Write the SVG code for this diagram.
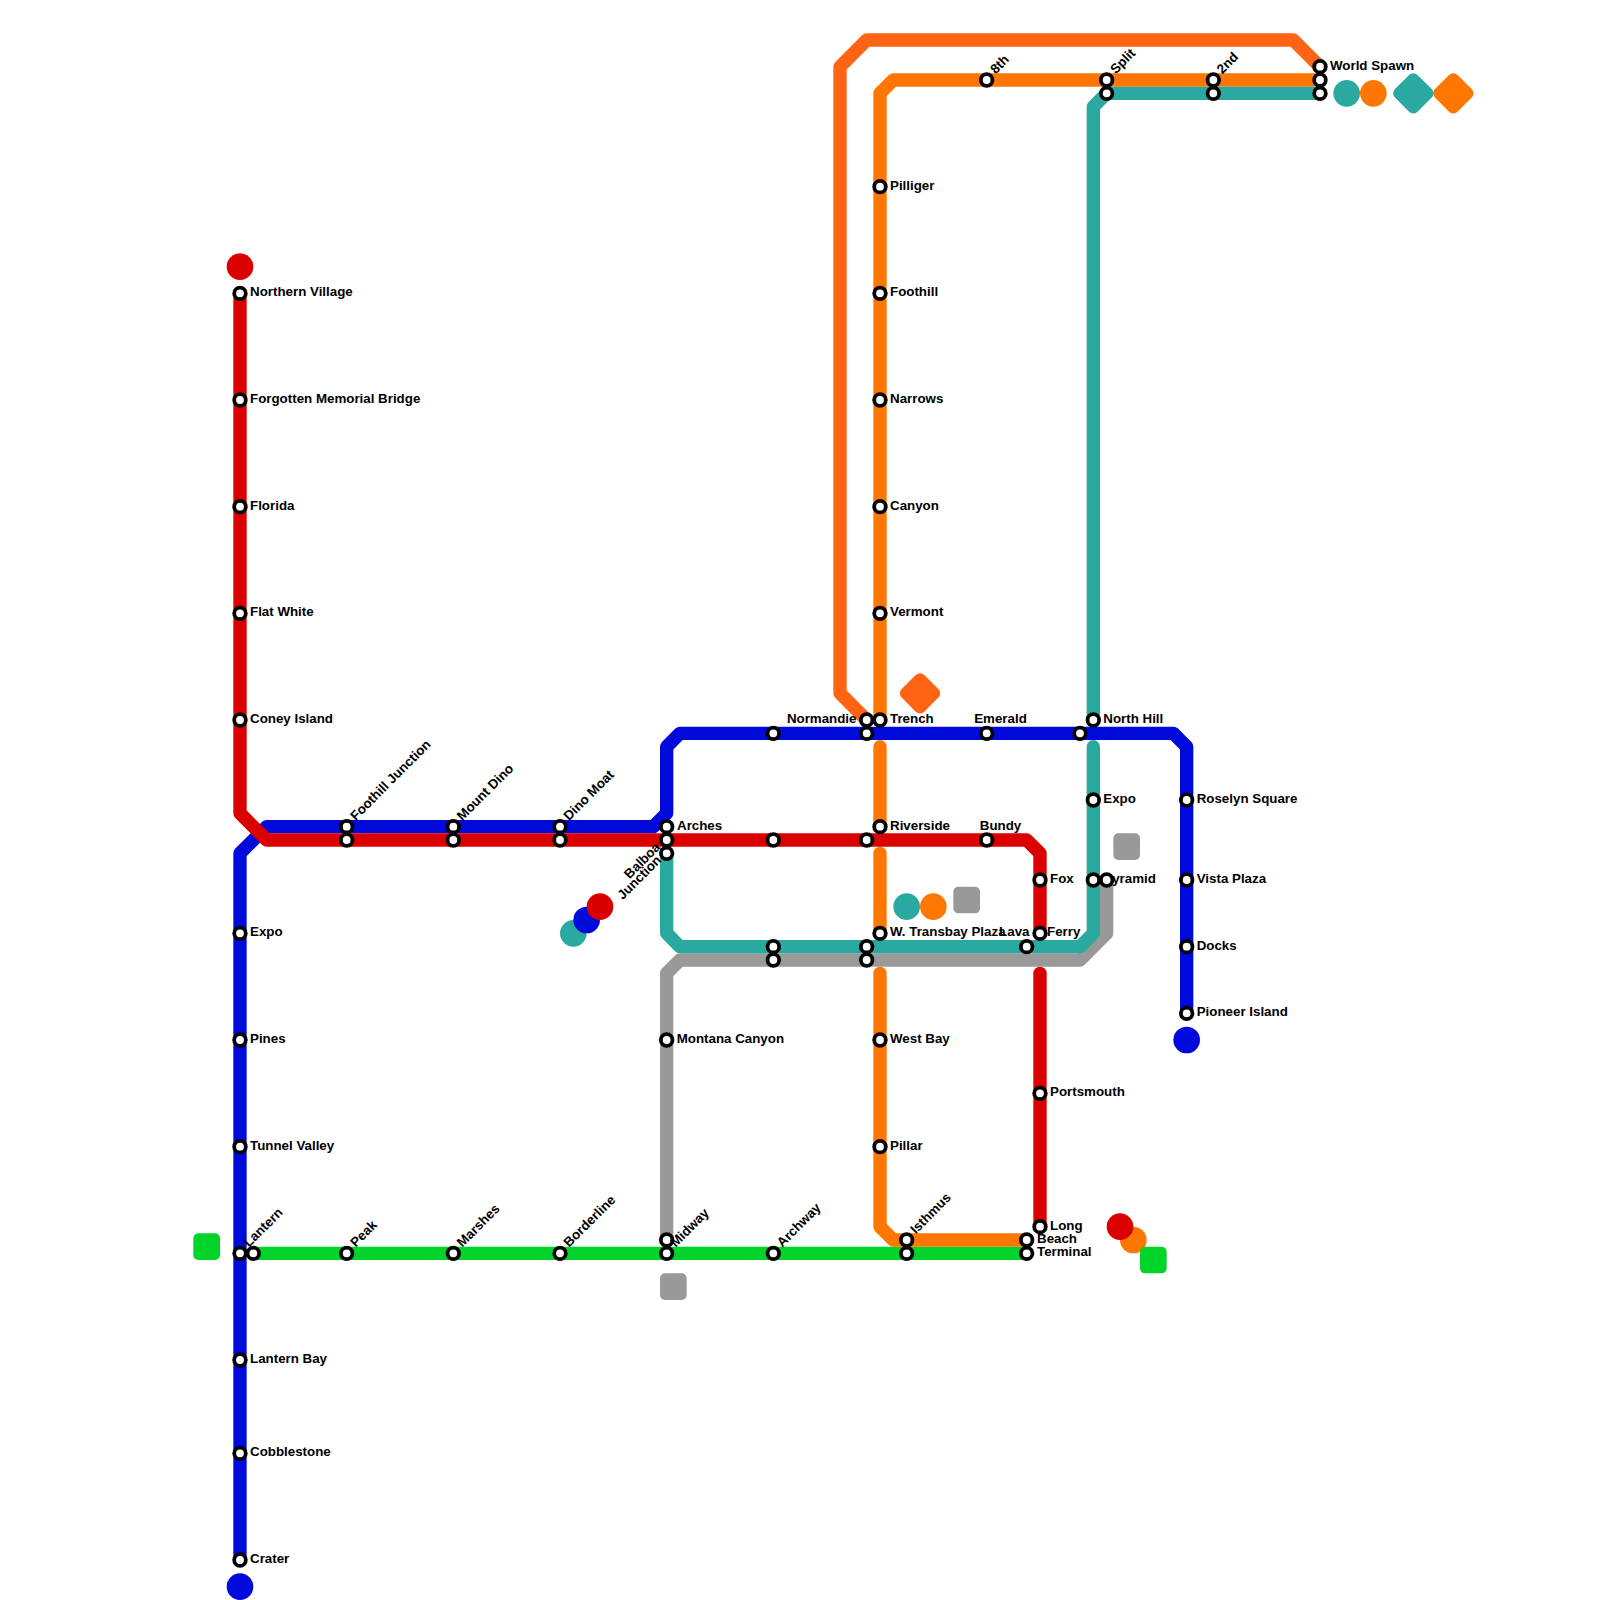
<svg xmlns="http://www.w3.org/2000/svg" width="1600" height="1600" viewBox="0 0 1600 1600">
<style>
text{font-family:"Liberation Sans",Arial,sans-serif;font-weight:700;font-size:13.33px;fill:#000}
.m{text-anchor:middle}.e{text-anchor:end}
.line{fill:none;stroke-width:13.33;stroke-linecap:round;stroke-linejoin:round}
.s{fill:#fff;stroke:#000;stroke-width:3.8}
.red{stroke:#db0000}.blue{stroke:#000bdb}.green{stroke:#00d42a}.gray{stroke:#999}.teal{stroke:#2aa9a0}.orange{stroke:#ff7700}.dark{stroke:#ff6414}
.fred{fill:#db0000}.fblue{fill:#000bdb}.fgreen{fill:#00d42a}.fgray{fill:#999}.fteal{fill:#2aa9a0}.forange{fill:#ff7700}.fdark{fill:#ff6414}
</style>
<defs>
<circle id="st" r="5.8" class="s"/>
<rect id="sq" x="-13.33" y="-13.33" width="26.67" height="26.67" rx="5"/>
<rect id="di" x="-16" y="-16" width="32" height="32" rx="6" transform="rotate(45)"/>
</defs>
<g id="connectors">
<path class="line green" d="M253.33 1253.33H1026.67"/>
<path class="line gray" d="M1106.67 880V933.33L1080 960H680L666.67 973.33V1240"/>
<path class="line dark" d="M866.67 720L840 693.33V66.67L866.67 40H1293.33L1320 66.67"/>
<path class="line orange" d="M880 720V93.33L893.33 80H1320"/>
<path class="line orange" d="M880 746.67V826.67"/>
<path class="line orange" d="M880 853.33V933.33"/>
<path class="line orange" d="M880 973.33V1226.67L893.33 1240H1026.67"/>
<path class="line teal" d="M666.67 853.33V933.33L680 946.67H1080L1093.33 933.33V746.67"/>
<path class="line teal" d="M1093.33 720V106.67L1106.67 93.33H1320"/>
<path class="line blue" d="M240 1560V853.33L266.67 826.67H653.33L666.67 813.33V746.67L680 733.33H1173.33L1186.67 746.67V1013.33"/>
<path class="line red" d="M240 293.33V813.33L266.67 840H1026.67L1040 853.33V933.33"/>
<path class="line red" d="M1040 973.33V1226.67"/>
</g>
<g id="markers">
<circle class="fred" cx="240" cy="266.67" r="13.33"/>
<circle class="fblue" cx="240" cy="1586.67" r="13.33"/>
<circle class="fblue" cx="1186.67" cy="1040" r="13.33"/>
<circle class="fteal" cx="573.33" cy="933.33" r="13.33"/>
<circle class="fblue" cx="586.67" cy="920" r="13.33"/>
<circle class="fred" cx="600" cy="906.67" r="13.33"/>
<circle class="fteal" cx="906.67" cy="906.67" r="13.33"/>
<circle class="forange" cx="933.33" cy="906.67" r="13.33"/>
<circle class="forange" cx="1133.33" cy="1240" r="13.33"/>
<circle class="fred" cx="1120" cy="1226.67" r="13.33"/>
<circle class="fteal" cx="1346.67" cy="93.33" r="13.33"/>
<circle class="forange" cx="1373.33" cy="93.33" r="13.33"/>
<use href="#sq" class="fgreen" x="206.67" y="1246.67"/>
<use href="#sq" class="fgreen" x="1153.33" y="1260"/>
<use href="#sq" class="fgray" x="673.33" y="1286.67"/>
<use href="#sq" class="fgray" x="1126.67" y="846.67"/>
<use href="#sq" class="fgray" x="966.67" y="900"/>
<use href="#di" class="fdark" x="920" y="693.33"/>
<use href="#di" class="fteal" x="1413.33" y="93.33"/>
<use href="#di" class="forange" x="1453.33" y="93.33"/>
</g>
<g id="stations">
<g id="northern-village"><use href="#st" x="240" y="293.33"/><text x="250" y="296.33">Northern Village</text></g>
<g id="forgotten"><use href="#st" x="240" y="400"/><text x="250" y="403">Forgotten Memorial Bridge</text></g>
<g id="florida"><use href="#st" x="240" y="506.67"/><text x="250" y="509.67">Florida</text></g>
<g id="flat-white"><use href="#st" x="240" y="613.33"/><text x="250" y="616.33">Flat White</text></g>
<g id="coney-island"><use href="#st" x="240" y="720"/><text x="250" y="723">Coney Island</text></g>
<g id="expo-w"><use href="#st" x="240" y="933.33"/><text x="250" y="936.33">Expo</text></g>
<g id="pines"><use href="#st" x="240" y="1040"/><text x="250" y="1043">Pines</text></g>
<g id="tunnel-valley"><use href="#st" x="240" y="1146.67"/><text x="250" y="1149.67">Tunnel Valley</text></g>
<g id="lantern"><use href="#st" x="240" y="1253.33"/><text transform="translate(249 1247.8) rotate(-45)">Lantern</text></g>
<g id="lantern-e"><use href="#st" x="253.33" y="1253.33"/></g>
<g id="lantern-bay"><use href="#st" x="240" y="1360"/><text x="250" y="1363">Lantern Bay</text></g>
<g id="cobblestone"><use href="#st" x="240" y="1453.33"/><text x="250" y="1456.33">Cobblestone</text></g>
<g id="crater"><use href="#st" x="240" y="1560"/><text x="250" y="1563">Crater</text></g>
<g id="foothill-junction"><use href="#st" x="346.67" y="826.67"/><text transform="translate(355.67 821.2) rotate(-45)">Foothill Junction</text></g>
<g id="foothill-junction-r"><use href="#st" x="346.67" y="840"/></g>
<g id="mount-dino"><use href="#st" x="453.33" y="826.67"/><text transform="translate(462.33 821.2) rotate(-45)">Mount Dino</text></g>
<g id="mount-dino-r"><use href="#st" x="453.33" y="840"/></g>
<g id="dino-moat"><use href="#st" x="560" y="826.67"/><text transform="translate(569 821.2) rotate(-45)">Dino Moat</text></g>
<g id="dino-moat-r"><use href="#st" x="560" y="840"/></g>
<g id="peak"><use href="#st" x="346.67" y="1253.33"/><text transform="translate(355.67 1247.8) rotate(-45)">Peak</text></g>
<g id="marshes"><use href="#st" x="453.33" y="1253.33"/><text transform="translate(462.33 1247.8) rotate(-45)">Marshes</text></g>
<g id="borderline"><use href="#st" x="560" y="1253.33"/><text transform="translate(569 1247.8) rotate(-45)">Borderline</text></g>
<g id="midway-g"><use href="#st" x="666.67" y="1240"/></g>
<g id="midway"><use href="#st" x="666.67" y="1253.33"/><text transform="translate(675.67 1247.8) rotate(-45)">Midway</text></g>
<g id="archway"><use href="#st" x="773.33" y="1253.33"/><text transform="translate(782.33 1247.8) rotate(-45)">Archway</text></g>
<g id="isthmus"><use href="#st" x="906.67" y="1240"/><text transform="translate(915.67 1234.5) rotate(-45)">Isthmus</text></g>
<g id="isthmus-g"><use href="#st" x="906.67" y="1253.33"/></g>
<g id="beach"><use href="#st" x="1026.67" y="1240"/><text x="1037" y="1243">Beach</text></g>
<g id="terminal"><use href="#st" x="1026.67" y="1253.33"/><text x="1037" y="1256.33">Terminal</text></g>
<g id="long"><use href="#st" x="1040" y="1226.67"/><text x="1050" y="1229.67">Long</text></g>
<g id="portsmouth"><use href="#st" x="1040" y="1093.33"/><text x="1050" y="1096.33">Portsmouth</text></g>
<g id="fox"><use href="#st" x="1040" y="880"/><text x="1050" y="883">Fox</text></g>
<g id="w-transbay"><use href="#st" x="880" y="933.33"/><text x="890" y="936.33">W. Transbay Plaza</text></g>
<g id="lava"><use href="#st" x="1026.67" y="946.67"/><text class="e" x="1029.5" y="936.33">Lava</text></g>
<g id="ferry"><use href="#st" x="1040" y="933.33"/><text x="1047" y="936.33">Ferry</text></g>
<g id="arches"><use href="#st" x="666.67" y="826.67"/><text x="677" y="829.67">Arches</text></g>
<g id="arches-r"><use href="#st" x="666.67" y="840"/></g>
<g id="balboa-junction"><use href="#st" x="666.67" y="853.33"/><text transform="translate(661 848) rotate(-45)" class="e">Balboa</text><text transform="translate(662 861) rotate(-45)" class="e">Junction</text></g>
<g id="s-58-55"><use href="#st" x="773.33" y="733.33"/></g>
<g id="s-58-63"><use href="#st" x="773.33" y="840"/></g>
<g id="s-58-71"><use href="#st" x="773.33" y="946.67"/></g>
<g id="s-58-72"><use href="#st" x="773.33" y="960"/></g>
<g id="normandie"><use href="#st" x="866.67" y="720"/><text class="e" x="856.5" y="723">Normandie</text></g>
<g id="s-65-55"><use href="#st" x="866.67" y="733.33"/></g>
<g id="s-65-63"><use href="#st" x="866.67" y="840"/></g>
<g id="s-65-71"><use href="#st" x="866.67" y="946.67"/></g>
<g id="s-65-72"><use href="#st" x="866.67" y="960"/></g>
<g id="trench"><use href="#st" x="880" y="720"/><text x="890" y="723">Trench</text></g>
<g id="riverside"><use href="#st" x="880" y="826.67"/><text x="890" y="829.67">Riverside</text></g>
<g id="west-bay"><use href="#st" x="880" y="1040"/><text x="890" y="1043">West Bay</text></g>
<g id="pillar"><use href="#st" x="880" y="1146.67"/><text x="890" y="1149.67">Pillar</text></g>
<g id="vermont"><use href="#st" x="880" y="613.33"/><text x="890" y="616.33">Vermont</text></g>
<g id="canyon"><use href="#st" x="880" y="506.67"/><text x="890" y="509.67">Canyon</text></g>
<g id="narrows"><use href="#st" x="880" y="400"/><text x="890" y="403">Narrows</text></g>
<g id="foothill"><use href="#st" x="880" y="293.33"/><text x="890" y="296.33">Foothill</text></g>
<g id="pilliger"><use href="#st" x="880" y="186.67"/><text x="890" y="189.67">Pilliger</text></g>
<g id="emerald"><use href="#st" x="986.67" y="733.33"/><text class="m" x="1000.5" y="723.3">Emerald</text></g>
<g id="bundy"><use href="#st" x="986.67" y="840"/><text class="m" x="1000.5" y="830">Bundy</text></g>
<g id="s-81-55"><use href="#st" x="1080" y="733.33"/></g>
<g id="north-hill"><use href="#st" x="1093.33" y="720"/><text x="1103.3" y="723">North Hill</text></g>
<g id="expo-e"><use href="#st" x="1093.33" y="800"/><text x="1103.3" y="803">Expo</text></g>
<g id="pyramid"><use href="#st" x="1093.33" y="880"/><text x="1103.3" y="883">Pyramid</text></g>
<g id="pyramid-g"><use href="#st" x="1106.67" y="880"/></g>
<g id="roselyn-square"><use href="#st" x="1186.67" y="800"/><text x="1196.7" y="803">Roselyn Square</text></g>
<g id="vista-plaza"><use href="#st" x="1186.67" y="880"/><text x="1196.7" y="883">Vista Plaza</text></g>
<g id="docks"><use href="#st" x="1186.67" y="946.67"/><text x="1196.7" y="949.67">Docks</text></g>
<g id="pioneer-island"><use href="#st" x="1186.67" y="1013.33"/><text x="1196.7" y="1016.33">Pioneer Island</text></g>
<g id="montana-canyon"><use href="#st" x="666.67" y="1040"/><text x="676.7" y="1043">Montana Canyon</text></g>
<g id="eighth"><use href="#st" x="986.67" y="80"/><text transform="translate(995.67 74.5) rotate(-45)">8th</text></g>
<g id="split"><use href="#st" x="1106.67" y="80"/><text transform="translate(1115.67 74.5) rotate(-45)">Split</text></g>
<g id="split-t"><use href="#st" x="1106.67" y="93.33"/></g>
<g id="second"><use href="#st" x="1213.33" y="80"/><text transform="translate(1222.33 74.5) rotate(-45)">2nd</text></g>
<g id="second-t"><use href="#st" x="1213.33" y="93.33"/></g>
<g id="world-spawn"><use href="#st" x="1320" y="66.67"/><text x="1330" y="69.67">World Spawn</text></g>
<g id="world-spawn-o"><use href="#st" x="1320" y="80"/></g>
<g id="world-spawn-t"><use href="#st" x="1320" y="93.33"/></g>
</g>
</svg>
